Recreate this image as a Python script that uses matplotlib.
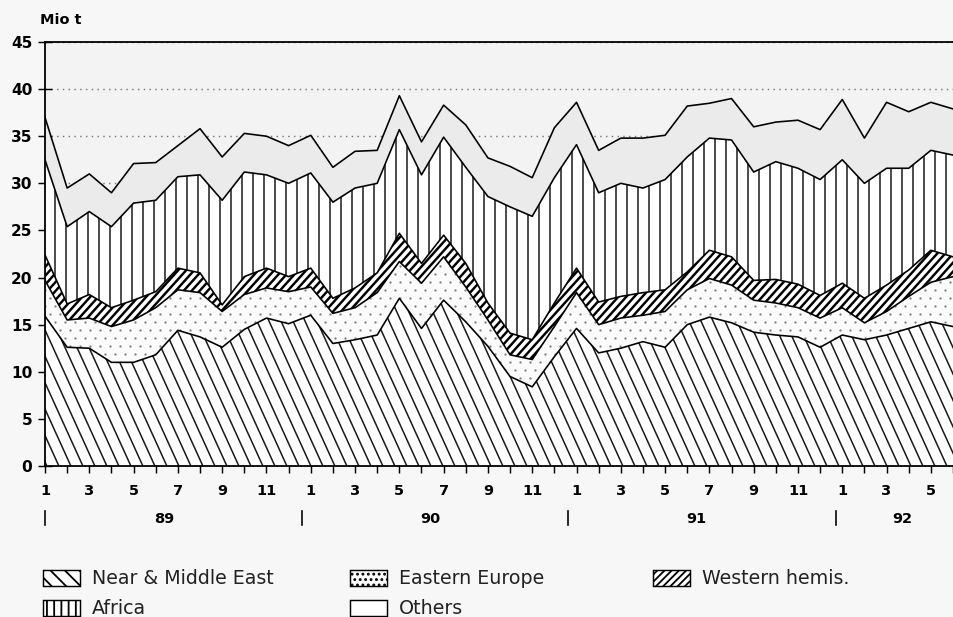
import numpy as np
import matplotlib
matplotlib.use('Agg')
import matplotlib.pyplot as plt
from matplotlib.patches import Rectangle
from matplotlib.collections import LineCollection

# monthly crude oil imports, Mio t  (1/1989 .. 6/1992)
months = [1, 2, 3, 4, 5, 6, 7, 8, 9, 10, 11, 12] * 3 + [1, 2, 3, 4, 5, 6]
years = ['89', '90', '91', '92']

near_middle_east = [15.9, 12.6, 12.5, 11.0, 11.0, 11.8, 14.4, 13.7, 12.6, 14.5, 15.7, 15.1,
                    16.0, 13.0, 13.4, 13.9, 17.8, 14.6, 17.6, 15.3, 12.7, 9.5, 8.4, 11.6,
                    14.6, 12.0, 12.5, 13.2, 12.6, 15.0, 15.8, 15.2, 14.2, 13.9, 13.7, 12.6,
                    13.9, 13.4, 13.9, 14.6, 15.3, 14.8]
eastern_europe = [3.8, 2.9, 3.2, 3.8, 4.5, 5.0, 4.3, 4.7, 3.8, 3.7, 3.2, 3.4,
                  3.0, 3.2, 3.4, 4.5, 3.9, 4.8, 4.6, 3.7, 2.8, 2.3, 2.9, 3.2,
                  3.8, 3.0, 3.2, 2.8, 3.8, 3.7, 4.1, 4.0, 3.4, 3.4, 3.1, 3.1,
                  2.9, 1.8, 2.5, 3.4, 4.2, 5.3]
western_hemis = [2.7, 1.7, 2.5, 2.0, 2.1, 1.7, 2.3, 2.1, 0.7, 1.9, 2.1, 1.6,
                 2.0, 1.6, 2.1, 2.1, 3.0, 2.1, 2.3, 2.5, 1.8, 2.3, 2.1, 2.5,
                 2.6, 2.4, 2.3, 2.4, 2.3, 1.9, 3.0, 3.0, 2.1, 2.5, 2.5, 2.4,
                 2.6, 2.6, 2.8, 2.8, 3.4, 2.1]
africa = [10.1, 8.2, 8.8, 8.6, 10.3, 9.7, 9.7, 10.4, 11.1, 11.1, 9.9, 9.9,
          10.1, 10.2, 10.6, 9.5, 11.0, 9.4, 10.4, 10.2, 11.3, 13.4, 13.1, 13.3,
          13.1, 11.6, 12.0, 11.1, 11.7, 12.2, 11.9, 12.4, 11.5, 12.5, 12.3, 12.3,
          13.1, 12.2, 12.4, 10.8, 10.6, 10.8]
others = [4.5, 4.1, 4.0, 3.6, 4.2, 4.0, 3.3, 4.9, 4.6, 4.1, 4.1, 4.0,
          4.0, 3.7, 3.9, 3.5, 3.6, 3.5, 3.4, 4.5, 4.1, 4.3, 4.1, 5.3,
          4.5, 4.5, 4.8, 5.3, 4.7, 5.4, 3.7, 4.4, 4.8, 4.2, 5.1, 5.3,
          6.4, 4.8, 7.0, 6.0, 5.1, 4.9]

x = np.arange(len(months))
stack = np.cumsum(np.array([near_middle_east, eastern_europe, western_hemis, africa, others]), axis=0)

DPI = 130
FW, FH = 953, 617
AX_L, AX_B, AX_T = 45, 466, 42
AW, AH = FW - AX_L, AX_B - AX_T

fig = plt.figure(figsize=(FW / DPI, FH / DPI), dpi=DPI, facecolor='#f7f7f7')
ax = fig.add_axes([AX_L / FW, 1 - AX_B / FH, AW / FW, AH / FH])
ax.set_facecolor('#f3f3f3')


def line_texture(poly, dx_px, spacing_px, **kw):
    # parallel lines in axes space, clipped to the area polygon
    # dx_px: horizontal shift of a line from bottom to top of the axes
    shift = dx_px / AW
    starts = np.arange(-abs(shift) - 0.05, 1.05 + abs(shift), spacing_px / AW)
    segs = [[(s, 0), (s + shift, 1)] for s in starts]
    lc = LineCollection(segs, transform=ax.transAxes, zorder=2, **kw)
    ax.add_collection(lc)
    lc.set_clip_path(poly.get_paths()[0], ax.transData)
    return lc


# areas
p_nme = ax.fill_between(x, 0, stack[0], facecolor='white', linewidth=0, zorder=1)
p_ee = ax.fill_between(x, stack[0], stack[1], facecolor='#fbfbfb', linewidth=0, zorder=1)
p_wh = ax.fill_between(x, stack[1], stack[2], facecolor='white', linewidth=0, zorder=1)
p_af = ax.fill_between(x, stack[2], stack[3], facecolor='white', linewidth=0, zorder=1)
ax.fill_between(x, stack[3], stack[4], facecolor='#ebebeb', linewidth=0, zorder=1)

# textures
line_texture(p_nme, -AH / 2.2, 12, color='#1a1a1a', lw=0.85)
line_texture(p_af, 0, 11, color='#1a1a1a', lw=0.85)
line_texture(p_wh, AH * 0.9, 8, color='black', lw=1.35)

gx, gy = np.meshgrid(np.arange(0, AW, 10.0), np.arange(0, AH, 8.0))
gx = gx + (np.arange(gx.shape[0])[:, None] % 2) * 5
dots = ax.scatter(gx.ravel() / AW, gy.ravel() / AH, s=1.6, color='#808080',
                  transform=ax.transAxes, zorder=2, linewidths=0)
dots.set_clip_path(p_ee.get_paths()[0], ax.transData)

for lvl in stack:
    ax.plot(x, lvl, color='black', lw=0.9, zorder=3)

ax.set_xlim(0, 40.8)
ax.set_ylim(0, 45)
ax.set_yticks(np.arange(0, 46, 5))
ax.set_xticks(x)
ax.set_xticklabels([str(m) if m % 2 == 1 else '' for m in months])
ax.yaxis.grid(True, linestyle=(0, (1, 3)), color='#777777', lw=0.8, zorder=0)
ax.set_axisbelow(True)
ax.spines['right'].set_visible(False)
for side in ['left', 'bottom', 'top']:
    ax.spines[side].set_linewidth(1.0)
    ax.spines[side].set_zorder(4)

ax.tick_params(axis='x', direction='inout', length=8, width=0.8, pad=6, labelsize=8)
ax.tick_params(axis='y', direction='inout', length=8, width=0.8, pad=3, labelsize=8.5)
for lab in ax.get_xticklabels() + ax.get_yticklabels():
    lab.set_fontweight('bold')

# year separators and labels
tr = ax.get_xaxis_transform()
for xs in [0, 11.6, 23.6, 35.7]:
    ax.plot([xs, xs], [-0.105, -0.14], color='black', lw=0.9, transform=tr, clip_on=False)
for xp, yr in zip([5.4, 17.4, 29.4, 38.7], years):
    ax.text(xp, -0.125, yr, transform=tr, ha='center', va='center', fontsize=8, fontweight='bold')

fig.text(40 / FW, 1 - 20 / FH, 'Mio t', fontsize=8, fontweight='bold', va='center')

# legend, laid out by hand like the original
legend_items = [
    ('Near & Middle East', '\\\\\\', 43, 578),
    ('Eastern Europe', '....', 350, 578),
    ('Western hemis.', '//////', 653, 578),
    ('Africa', '|||', 43, 608),
    ('Others', '', 350, 608),
]
for label, hatch, px, py in legend_items:
    fig.add_artist(Rectangle((px / FW, 1 - (py + 8) / FH), 37 / FW, 16 / FH,
                             transform=fig.transFigure, facecolor='white',
                             edgecolor='black', hatch=hatch, lw=0.8))
    fig.text((px + 49) / FW, 1 - py / FH, label, fontsize=10.5, va='center', ha='left',
             color='#222222')

fig.savefig('out.png', dpi=DPI, facecolor=fig.get_facecolor())
